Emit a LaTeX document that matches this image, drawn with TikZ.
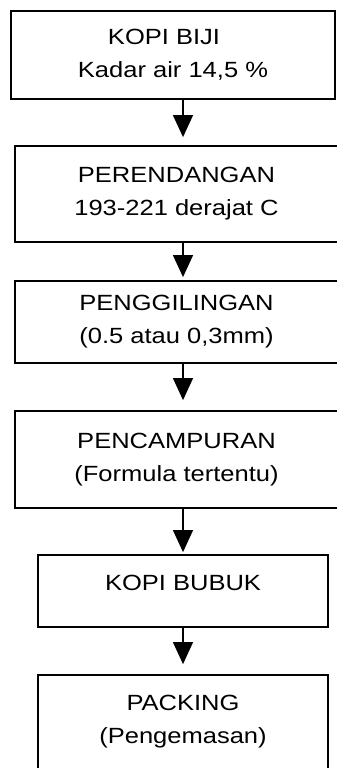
\documentclass[tikz,border=0pt]{standalone}
\usepackage{fontspec}
\setmainfont{Liberation Sans}[FakeStretch=1.16]
\usetikzlibrary{arrows.meta}
\tikzset{
  box/.style={draw, line width=1.8pt, inner sep=0pt, align=center,
    font=\fontsize{22pt}{33pt}\selectfont},
  arr/.style={line width=1.2pt, -{Triangle[length=22pt,width=20pt]}}
}
\begin{document}
\begin{tikzpicture}[x=1pt,y=-1pt]
\useasboundingbox (0,0) rectangle (337,768);
\node[box, minimum width=324pt, minimum height=88pt] (b1) at (173,55)
  {KOPI BIJI\hspace*{18pt}\\Kadar air 14,5 \%};
\node[box, minimum width=323pt, minimum height=96pt] (b2) at (176.5,194)
  {PERENDANGAN\\193-221 derajat C};
\node[box, minimum width=323pt, minimum height=82pt] (b3) at (176.5,322)
  {PENGGILINGAN\\(0.5 atau 0,3mm)};
\node[box, minimum width=323pt, minimum height=97pt] (b4) at (176.5,459.5)
  {PENCAMPURAN\\(Formula tertentu)};
\node[box, minimum width=290pt, minimum height=72pt, text height=16pt, text depth=18pt] (b5) at (183,591)
  {KOPI BUBUK};
\node[box, minimum width=290pt, minimum height=94pt] (b6) at (183,722)
  {PACKING\\(Pengemasan)};
\coordinate (ax) at (183,0);
\draw[arr, shorten >=8pt] (b1.south -| ax) -- (b2.north -| ax);
\draw[arr, shorten >=3pt] (b2.south -| ax) -- (b3.north -| ax);
\draw[arr, shorten >=10pt] (b3.south -| ax) -- (b4.north -| ax);
\draw[arr, shorten >=2pt] (b4.south -| ax) -- (b5.north -| ax);
\draw[arr, shorten >=10pt] (b5.south -| ax) -- (b6.north -| ax);
\end{tikzpicture}
\end{document}
